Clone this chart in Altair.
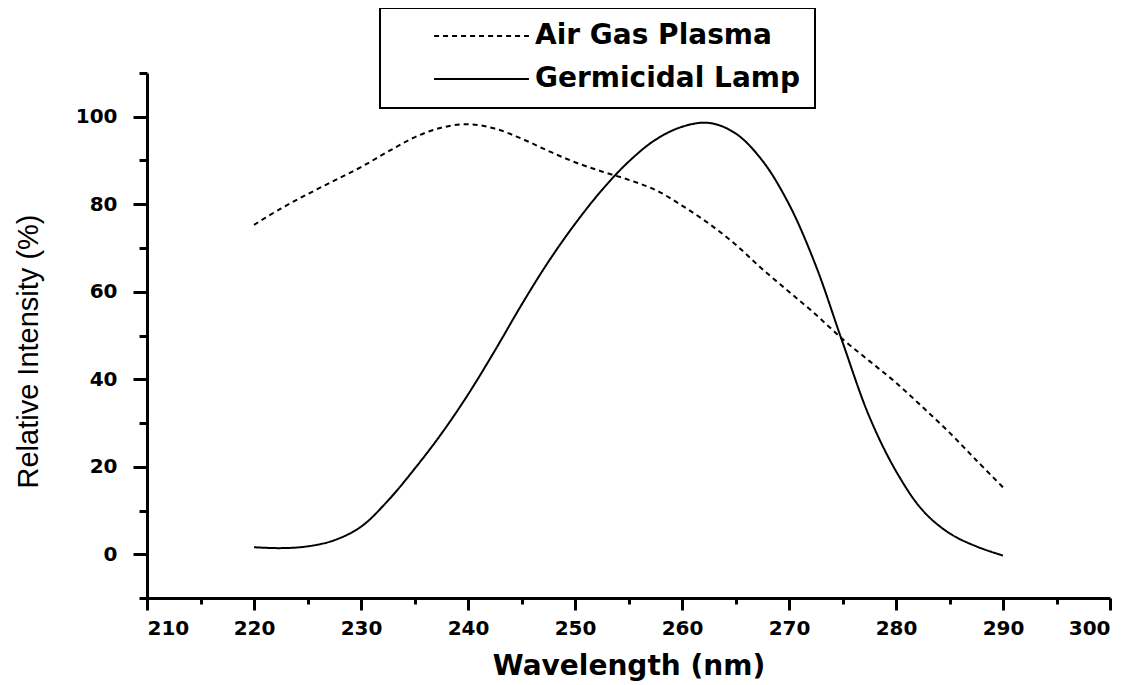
import altair as alt
import pandas as pd

wavelength = [220, 222.5, 225, 227.5, 230, 232.5, 235, 237.5, 240, 242.5, 245, 247.5,
              250, 252.5, 255, 257.5, 260, 262.5, 265, 267.5, 270, 272.5, 275, 277.5,
              280, 282.5, 285, 287.5, 290]
air_gas_plasma = [75.3, 79.0, 82.3, 85.4, 88.5, 92.0, 95.3, 97.5, 98.3, 97.3, 95.0, 92.2,
                  89.6, 87.5, 85.6, 83.3, 79.7, 75.6, 70.8, 65.2, 60.0, 54.8, 49.2, 44.2,
                  39.2, 33.6, 27.8, 21.5, 15.3]
germicidal_lamp = [1.6, 1.4, 1.8, 3.2, 6.3, 12.2, 19.5, 27.5, 36.5, 46.5, 57.0, 66.8,
                   75.5, 83.2, 89.7, 94.7, 97.7, 98.6, 96.2, 90.0, 80.0, 66.0, 48.5, 31.5,
                   19.0, 10.0, 4.8, 1.8, -0.3]
series_names = ["Air Gas Plasma", "Germicidal Lamp"]

x_major = [210, 220, 230, 240, 250, 260, 270, 280, 290, 300]
x_minor = [215, 225, 235, 245, 255, 265, 275, 285, 295]
y_major = [0, 20, 40, 60, 80, 100]
y_minor = [-10, 10, 30, 50, 70, 90, 110]

rows = []
for name, vals in zip(series_names, [air_gas_plasma, germicidal_lamp]):
    for w, v in zip(wavelength, vals):
        rows.append({"wavelength": w, "intensity": v, "series": name})
df = pd.DataFrame(rows)

x_scale = alt.Scale(domain=[210, 300], nice=False, zero=False)
y_scale = alt.Scale(domain=[-10, 110], nice=False, zero=False)

tick_font = "DejaVu Sans"

lines = alt.Chart(df).mark_line(strokeWidth=2, color="black", interpolate="catmull-rom").encode(
    x=alt.X("wavelength:Q", scale=x_scale,
            axis=alt.Axis(values=x_major, orient="bottom", tickSize=12, tickWidth=3,
                          domainWidth=3, domainColor="black", tickColor="black",
                          labelFont=tick_font, labelFontWeight="bold", labelFontSize=20,
                          labelColor="black", labelPadding=8, grid=False,
                          title="Wavelength (nm)", titleFont=tick_font,
                          titleFontWeight="bold", titleFontSize=28, titleColor="black",
                          titlePadding=14)),
    y=alt.Y("intensity:Q", scale=y_scale,
            axis=alt.Axis(values=y_major, orient="left", tickSize=14, tickWidth=3,
                          domainWidth=3, domainColor="black", tickColor="black",
                          labelFont=tick_font, labelFontWeight="bold", labelFontSize=20,
                          labelColor="black", labelPadding=16, grid=False,
                          title="Relative Intensity (%)", titleFont="Liberation Sans",
                          titleFontWeight="normal", titleFontSize=29, titleColor="black",
                          titlePadding=32, titleY=278)),
    strokeDash=alt.StrokeDash(
        "series:N",
        scale=alt.Scale(domain=series_names, range=[[5, 4], [1, 0]]),
        legend=alt.Legend(title=None, orient="none", legendX=233, legendY=-65,
                          direction="vertical", symbolType="stroke", symbolSize=9000,
                          symbolStrokeWidth=2, symbolStrokeColor="black",
                          labelFont=tick_font, labelFontWeight="bold", labelFontSize=28,
                          labelColor="black", labelOffset=5, labelLimit=0,
                          padding=15, rowPadding=15, clipHeight=26,
                          strokeColor="black", symbolOffset=38)),
)

minor = alt.Chart(df).mark_point(opacity=0).encode(
    x=alt.X("wavelength:Q", scale=x_scale,
            axis=alt.Axis(values=x_minor, orient="bottom", labels=False, tickSize=6,
                          tickWidth=3, tickColor="black", domain=False, grid=False,
                          title=None)),
    y=alt.Y("intensity:Q", scale=y_scale,
            axis=alt.Axis(values=y_minor, orient="left", labels=False, tickSize=8,
                          tickWidth=3, tickColor="black", domain=False, grid=False,
                          title=None)),
)

chart = alt.layer(lines, minor).resolve_axis(
    x="independent", y="independent"
).properties(
    width=963, height=525,
    autosize=alt.AutoSizeParams(type="none"),
    padding={"left": 139, "top": 65, "right": 20, "bottom": 90},
).configure_view(stroke=None).configure_legend(strokeWidth=2)

chart.save("out.html", embed_options={"renderer": "svg", "actions": False})
